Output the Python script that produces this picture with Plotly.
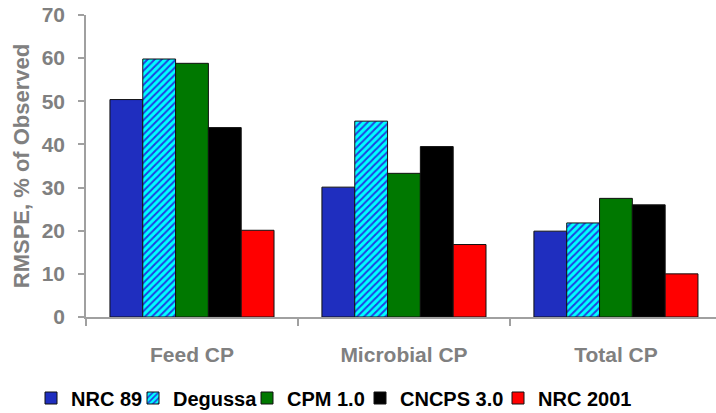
import plotly.graph_objects as go

categories = ["Feed CP", "Microbial CP", "Total CP"]
series_names = ["NRC 89", "Degussa", "CPM 1.0", "CNCPS 3.0", "NRC 2001"]
nrc89 = [50.4, 30.1, 19.9]
degussa = [59.8, 45.4, 21.8]
cpm10 = [58.8, 33.3, 27.5]
cncps30 = [43.9, 39.5, 26.0]
nrc2001 = [20.1, 16.8, 10.0]
y_ticks = [0, 10, 20, 30, 40, 50, 60, 70]

values = [nrc89, degussa, cpm10, cncps30, nrc2001]
colors = ["#1F2EBF", "#00FFFF", "#007800", "#000000", "#FF0000"]

FONT = "Liberation Sans, Arial, sans-serif"
GRAY = "#808080"
W, H = 716, 413
ML, MR, MT, MB = 86, 0, 15, 96

# one legend box per series so the key row can be spaced freely
legend_ids = ["legend", "legend2", "legend3", "legend4", "legend5"]
legend_left_px = [31, 133, 247, 360, 498]

fig = go.Figure()
for name, vals, col, lid in zip(series_names, values, colors, legend_ids):
    marker = dict(color=col, line=dict(color="#111111", width=1))
    if name == "Degussa":
        marker["pattern"] = dict(shape="/", fgcolor="#2040E0", bgcolor="#00FFFF",
                                 size=5, solidity=0.4, fillmode="replace")
    fig.add_trace(go.Bar(name=name, x=categories, y=vals, marker=marker, legend=lid))

plot_w = W - ML - MR
plot_h = H - MT - MB
legend_y = (H - MB - 398) / plot_h
for lid, px in zip(legend_ids, legend_left_px):
    fig.update_layout({lid: dict(
        orientation="h", x=(px - ML) / plot_w, xanchor="left",
        y=legend_y, yanchor="middle", bgcolor="rgba(0,0,0,0)",
        font=dict(family=FONT, size=20, color="#000000", weight="bold"),
        itemwidth=30,
    )})

fig.update_layout(
    width=W, height=H,
    margin=dict(l=ML, r=MR, t=MT, b=MB, autoexpand=False),
    paper_bgcolor="white", plot_bgcolor="white",
    barmode="group", bargap=0.226, bargroupgap=0,
    font=dict(family=FONT, size=20, color=GRAY, weight="bold"),
    showlegend=True,
    xaxis=dict(
        range=[-0.5, 2.472], showline=True, linecolor="#A0A0A0", linewidth=1.5,
        ticks="outside", tickson="boundaries", ticklen=7, tickcolor="#A0A0A0",
        tickwidth=1.5, ticklabelstandoff=18, showgrid=False,
        tickfont=dict(family=FONT, size=21, color=GRAY, weight="bold"),
    ),
    yaxis=dict(
        range=[0, 70], tickvals=y_ticks, showline=True, linecolor="#A0A0A0",
        linewidth=1.5, ticks="outside", ticklen=6, tickcolor="#A0A0A0", tickwidth=1.5,
        showgrid=False, zeroline=False, ticklabelstandoff=9,
        tickfont=dict(family=FONT, size=21, color=GRAY, weight="bold"),
        title=dict(text="RMSPE, % of Observed", standoff=6,
                   font=dict(family=FONT, size=22, color=GRAY, weight="bold")),
    ),
)

fig.write_html("out.html")
